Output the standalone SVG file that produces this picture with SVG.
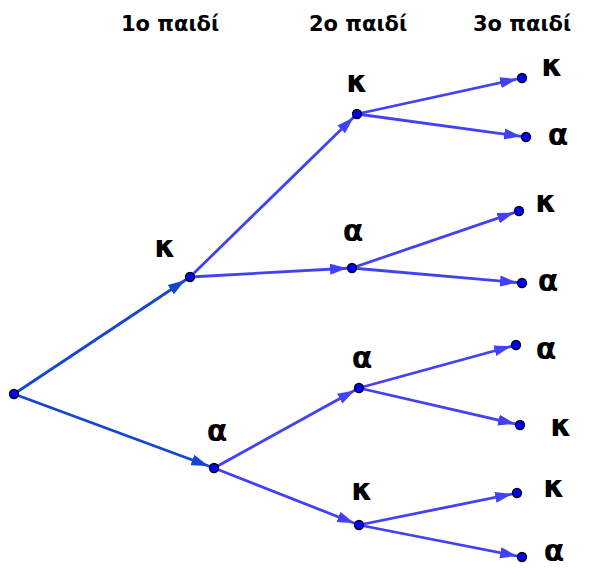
<svg xmlns="http://www.w3.org/2000/svg" width="606" height="568" viewBox="0 0 606 568">
<style>
.hdr{font-family:"DejaVu Sans",sans-serif;font-weight:bold;font-size:21px;fill:#000}
.lbl{font-family:"DejaVu Sans",sans-serif;font-weight:bold;font-size:30px;fill:#000;text-anchor:middle}
.e1{stroke:#1446d2;stroke-width:2.8;fill:none;marker-end:url(#ad)}
.e2{stroke:#4141f5;stroke-width:2.8;fill:none;marker-end:url(#al)}
.n{fill:#0000ff;stroke:#000;stroke-width:1.3}
</style>
<defs>
<marker id="ad" markerUnits="userSpaceOnUse" markerWidth="24" markerHeight="12" refX="23" refY="6" orient="auto" viewBox="0 0 24 12"><path d="M0,0.5 L17,6 L0,11.5 z" fill="#1446d2"/></marker>
<marker id="al" markerUnits="userSpaceOnUse" markerWidth="24" markerHeight="12" refX="22" refY="6" orient="auto" viewBox="0 0 24 12"><path d="M0,0.5 L17,6 L0,11.5 z" fill="#4141f5"/></marker>
</defs>
<rect width="606" height="568" fill="#fff"/>
<g id="headers">
<text class="hdr" x="121" y="31">1ο παιδί</text>
<text class="hdr" x="309" y="31">2ο παιδί</text>
<text class="hdr" x="473" y="31">3ο παιδί</text>
</g>
<g id="connectors">
<line class="e1" x1="14" y1="394" x2="190" y2="277"/>
<line class="e1" x1="14" y1="394" x2="214" y2="468"/>
<line class="e2" x1="190" y1="277" x2="357" y2="114"/>
<line class="e2" x1="190" y1="277" x2="352" y2="268"/>
<line class="e2" x1="214" y1="468" x2="359" y2="388"/>
<line class="e2" x1="214" y1="468" x2="359" y2="525"/>
<line class="e2" x1="357" y1="114" x2="522" y2="78"/>
<line class="e2" x1="357" y1="114" x2="526" y2="137"/>
<line class="e2" x1="352" y1="268" x2="519" y2="211"/>
<line class="e2" x1="352" y1="268" x2="522" y2="283"/>
<line class="e2" x1="359" y1="388" x2="516" y2="345"/>
<line class="e2" x1="359" y1="388" x2="520" y2="425"/>
<line class="e2" x1="359" y1="525" x2="517" y2="493"/>
<line class="e2" x1="359" y1="525" x2="522" y2="557"/>
</g>
<g id="root"><circle class="n" cx="14" cy="394" r="4.5"/></g>
<g id="n1k"><circle class="n" cx="190" cy="277" r="4.5"/><text class="lbl" x="165" y="257">κ</text></g>
<g id="n1a"><circle class="n" cx="214" cy="468" r="4.5"/><text class="lbl" x="217" y="441">α</text></g>
<g id="n2kk"><circle class="n" cx="357" cy="114" r="4.5"/><text class="lbl" x="357" y="92">κ</text></g>
<g id="n2ka"><circle class="n" cx="352" cy="268" r="4.5"/><text class="lbl" x="353" y="241">α</text></g>
<g id="n2aa"><circle class="n" cx="359" cy="388" r="4.5"/><text class="lbl" x="362" y="368">α</text></g>
<g id="n2ak"><circle class="n" cx="359" cy="525" r="4.5"/><text class="lbl" x="362" y="500">κ</text></g>
<g id="n3kkk"><circle class="n" cx="522" cy="78" r="4.5"/><text class="lbl" x="552" y="76">κ</text></g>
<g id="n3kka"><circle class="n" cx="526" cy="137" r="4.5"/><text class="lbl" x="558" y="145">α</text></g>
<g id="n3kak"><circle class="n" cx="519" cy="211" r="4.5"/><text class="lbl" x="546" y="212">κ</text></g>
<g id="n3kaa"><circle class="n" cx="522" cy="283" r="4.5"/><text class="lbl" x="548" y="291">α</text></g>
<g id="n3aaa"><circle class="n" cx="516" cy="345" r="4.5"/><text class="lbl" x="546" y="359">α</text></g>
<g id="n3aak"><circle class="n" cx="520" cy="425" r="4.5"/><text class="lbl" x="561" y="436">κ</text></g>
<g id="n3akk"><circle class="n" cx="517" cy="493" r="4.5"/><text class="lbl" x="554" y="497">κ</text></g>
<g id="n3aka"><circle class="n" cx="522" cy="557" r="4.5"/><text class="lbl" x="554" y="561">α</text></g>
</svg>
